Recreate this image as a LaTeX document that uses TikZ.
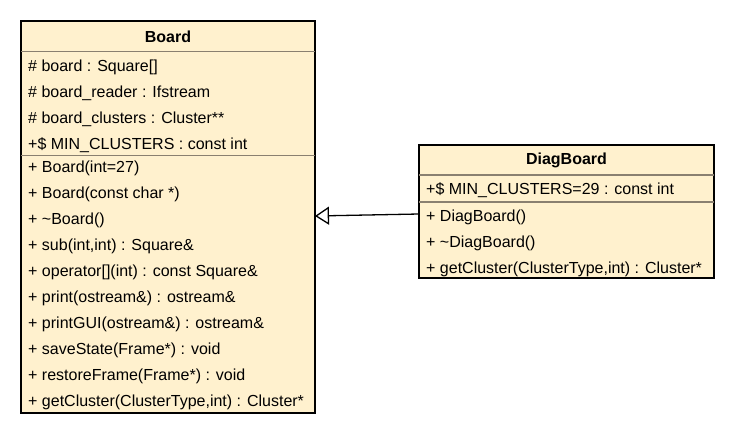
\documentclass[tikz,border=0pt]{standalone}
\usepackage{fontspec}
\setmainfont{Liberation Sans}
\usetikzlibrary{arrows.meta}
\definecolor{umlfill}{RGB}{255,241,206}
\definecolor{umlsep}{RGB}{138,128,112}
\tikzset{
  classbox/.style={draw=black, line width=1.8pt, fill=umlfill},
  sepline/.style={draw=umlsep, line width=1.4pt},
  member/.style={anchor=west, inner sep=0pt, font=\fontsize{16}{18}\selectfont},
  title/.style={inner sep=0pt, font=\fontsize{16}{18}\selectfont\bfseries},
  inherit/.style={line width=1.3pt, -{Triangle[open, length=14pt, width=18pt, line width=1.3pt]}}
}
\begin{document}
\begin{tikzpicture}[x=1pt,y=-1pt]
\useasboundingbox (0,0) rectangle (735,436);
% Board
\draw[classbox] (21,21) rectangle (315,413);
\coordinate (boardR) at (315,216);
\draw[sepline] (21,51.5) -- (315,51.5);
\draw[sepline] (21,155.5) -- (315,155.5);
\node[title] (bt) at (168,36.5) {Board};
\node[member] (b1) at (28,67) {\# board : Square[]};
\node[member] (b2) at (28,93) {\# board\_reader : Ifstream};
\node[member] (b3) at (28,119) {\# board\_clusters : Cluster**};
\node[member] (b4) at (28,145) {+\$ MIN\_CLUSTERS : const int};
\node[member] (m1) at (28,168) {+ Board(int=27)};
\node[member] (m2) at (28,194) {+ Board(const char *)};
\node[member] (m3) at (28,220) {+ \char`\~Board()};
\node[member] (m4) at (28,246) {+ sub(int,int) : Square\&};
\node[member] (m5) at (28,272) {+ operator[](int) : const Square\&};
\node[member] (m6) at (28,298) {+ print(ostream\&) : ostream\&};
\node[member] (m7) at (28,324) {+ printGUI(ostream\&) : ostream\&};
\node[member] (m8) at (28,350) {+ saveState(Frame*) : void};
\node[member] (m9) at (28,376) {+ restoreFrame(Frame*) : void};
\node[member] (m10) at (28,402) {+ getCluster(ClusterType,int) : Cluster*};
% DiagBoard
\draw[classbox] (419,145) rectangle (714,278);
\coordinate (diagL) at (419,214);
\draw[sepline] (419,175) -- (714,175);
\draw[sepline] (419,202) -- (714,202);
\node[title] (dt) at (566.5,160.5) {DiagBoard};
\node[member] (d1) at (426,190) {+\$ MIN\_CLUSTERS=29 : const int};
\node[member] (d2) at (426,217) {+ DiagBoard()};
\node[member] (d3) at (426,243) {+ \char`\~DiagBoard()};
\node[member] (d4) at (426,269) {+ getCluster(ClusterType,int) : Cluster*};
% inheritance
\draw[inherit] (diagL) -- (boardR);
\end{tikzpicture}
\end{document}
